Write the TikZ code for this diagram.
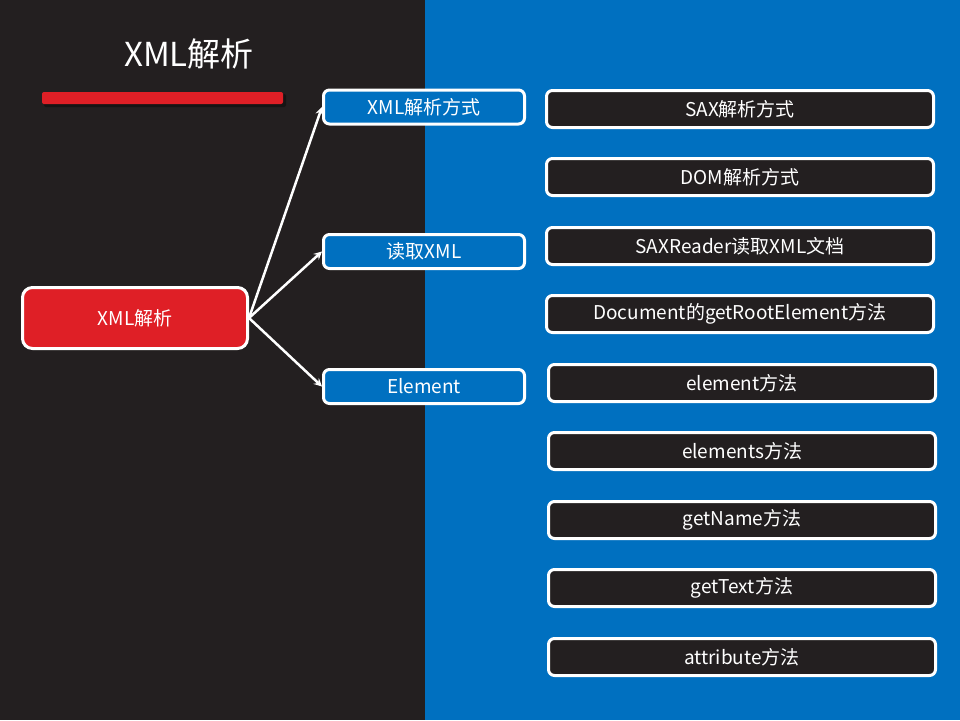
\documentclass[tikz,border=0pt]{standalone}
\usepackage{fontspec}
\setmainfont{Noto Sans CJK SC}
\definecolor{darkbg}{HTML}{231F20}
\definecolor{bluebg}{HTML}{0070C0}
\definecolor{redbox}{HTML}{DF1F26}
\tikzset{
	mainbox/.style={draw=white,line width=3pt,fill=redbox,rounded corners=10pt,minimum width=225pt,minimum height=61pt,text=white,font=\fontsize{19}{22}\selectfont},
	midbox/.style={draw=white,line width=3pt,fill=bluebg,rounded corners=6pt,minimum width=201pt,minimum height=34pt,text=white,font=\fontsize{19}{22}\selectfont},
	itembox/.style={draw=white,line width=3pt,fill=darkbg,rounded corners=6pt,minimum width=387pt,minimum height=37pt,text=white,font=\fontsize{19}{22}\selectfont},
	link/.style={draw=white,line width=2.5pt,-stealth}
}
\begin{document}
\begin{tikzpicture}[x=1pt,y=-1pt]
			\useasboundingbox (0,0) rectangle (960,720);
			% background halves
			\fill[darkbg] (0,0) rectangle (425,720);
			\fill[bluebg] (425,0) rectangle (960,720);
			% title and bar
			\node[text=white,font=\fontsize{33}{38}\selectfont] (title) at (189,54) {XML解析};
			\fill[black,opacity=0.35,rounded corners=2pt] (44,94) rectangle (286,107);
			\fill[redbox,rounded corners=2pt] (42,92) rectangle (283,104);
			% main node
			\node[mainbox] (xml) at (135,318) {XML解析};
			% middle column
			\node[midbox] (way) at (424,107) {XML解析方式};
			\node[midbox] (read) at (424,251.5) {读取XML};
			\node[midbox] (elem) at (424,386.5) {Element};
			\draw[link] (xml.east) -- (way.west);
			\draw[link] (xml.east) -- (read.west);
			\draw[link] (xml.east) -- (elem.west);
			% right column
			\node[itembox] (sax) at (740,109) {SAX解析方式};
			\node[itembox] (dom) at (740,177) {DOM解析方式};
			\node[itembox] (reader) at (740,246) {SAXReader读取XML文档};
			\node[itembox] (root) at (740,314) {Document的getRootElement方法};
			\node[itembox] (element) at (742,383) {element方法};
			\node[itembox] (elements) at (742,451) {elements方法};
			\node[itembox] (name) at (742,520) {getName方法};
			\node[itembox] (text) at (742,588) {getText方法};
			\node[itembox] (attr) at (742,657) {attribute方法};
\end{tikzpicture}
\end{document}
